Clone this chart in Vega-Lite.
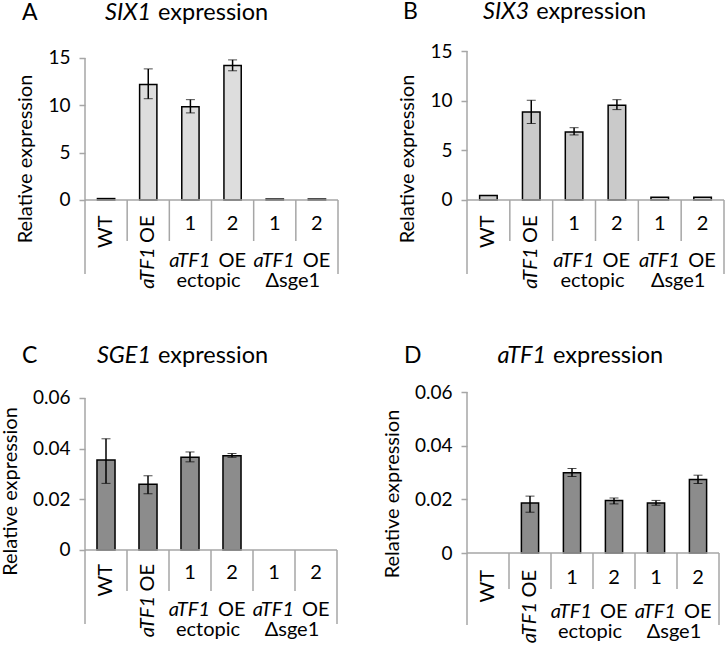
{
  "$schema": "https://vega.github.io/schema/vega-lite/v6.json",
  "padding": 0,
  "columns": 2,
  "bounds": "flush",
  "align": "each",
  "spacing": {"row": 57, "column": 129},
  "concat": [
    {
      "width": 253, "height": 273,
      "data": {"values": [
        {"sample": "WT", "value": 0.15, "row1": "WT"},
        {"sample": "OE", "value": 12.2, "lo": 10.7, "hi": 13.85, "row1": "OE", "row1i": "aTF1"},
        {"sample": "E1", "value": 9.85, "lo": 9.2, "hi": 10.6, "num": "1"},
        {"sample": "E2", "value": 14.2, "lo": 13.65, "hi": 14.8, "num": "2", "grp": "ectopic", "grpi": "aTF1", "grpn": "OE"},
        {"sample": "D1", "value": 0.1, "num": "1"},
        {"sample": "D2", "value": 0.1, "num": "2", "grp": "Δsge1", "grpi": "aTF1", "grpn": "OE"}
      ]},
      "layer": [
        {"transform": [{"filter": "datum.value > 0"}],
         "mark": {"type": "bar", "width": {"band": 0.41}, "fill": "#dddddd", "stroke": "black", "strokeWidth": 1.5},
         "encoding": {
           "x": {"field": "sample", "type": "nominal", "scale": {"domain": ["WT", "OE", "E1", "E2", "D1", "D2"], "paddingInner": 0, "paddingOuter": 0}, "axis": null},
           "y": {"field": "value", "type": "quantitative", "title": "Relative expression", "scale": {"domain": [-7.817, 21.021], "nice": false, "zero": false}, "axis": {"values": [0, 5, 10, 15], "domain": false, "titleY": 157.5}}}},
        {"transform": [{"filter": "isValid(datum.lo)"}],
         "mark": {"type": "errorbar", "ticks": {"size": 9, "color": "black", "strokeWidth": 1.5}, "rule": {"color": "black", "strokeWidth": 1.5}},
         "encoding": {
           "x": {"field": "sample", "type": "nominal", "scale": {"domain": ["WT", "OE", "E1", "E2", "D1", "D2"], "paddingInner": 0, "paddingOuter": 0}, "axis": null},
           "y": {"field": "lo", "type": "quantitative", "title": "Relative expression", "scale": {"domain": [-7.817, 21.021], "nice": false, "zero": false}, "axis": {"values": [0, 5, 10, 15], "domain": false, "titleY": 157.5}},
           "y2": {"field": "hi"}}},
        {"transform": [{"filter": "datum.sample == 'WT'"}], "mark": {"type": "rule"},
         "encoding": {
           "x": {"field": "sample", "type": "nominal", "bandPosition": 0, "scale": {"domain": ["WT", "OE", "E1", "E2", "D1", "D2"], "paddingInner": 0, "paddingOuter": 0}, "axis": null},
           "y": {"datum": 15, "type": "quantitative", "title": "Relative expression", "scale": {"domain": [-7.817, 21.021], "nice": false, "zero": false}, "axis": {"values": [0, 5, 10, 15], "domain": false, "titleY": 157.5}},
           "y2": {"datum": -7.817}}},
        {"transform": [{"filter": "datum.sample == 'D2'"}], "mark": {"type": "rule"},
         "encoding": {
           "x": {"field": "sample", "type": "nominal", "bandPosition": 1, "scale": {"domain": ["WT", "OE", "E1", "E2", "D1", "D2"], "paddingInner": 0, "paddingOuter": 0}, "axis": null},
           "y": {"datum": 0, "type": "quantitative", "title": "Relative expression", "scale": {"domain": [-7.817, 21.021], "nice": false, "zero": false}, "axis": {"values": [0, 5, 10, 15], "domain": false, "titleY": 157.5}},
           "y2": {"datum": -7.817}}},
        {"transform": [{"filter": "datum.sample != 'D2'"}], "mark": {"type": "rule"},
         "encoding": {
           "x": {"field": "sample", "type": "nominal", "bandPosition": 1, "scale": {"domain": ["WT", "OE", "E1", "E2", "D1", "D2"], "paddingInner": 0, "paddingOuter": 0}, "axis": null},
           "y": {"datum": 0, "type": "quantitative", "title": "Relative expression", "scale": {"domain": [-7.817, 21.021], "nice": false, "zero": false}, "axis": {"values": [0, 5, 10, 15], "domain": false, "titleY": 157.5}},
           "y2": {"datum": -4.331}}},
        {"transform": [{"filter": "datum.sample == 'WT'"}], "mark": {"type": "rule"},
         "encoding": {
           "y": {"datum": 0, "type": "quantitative", "title": "Relative expression", "scale": {"domain": [-7.817, 21.021], "nice": false, "zero": false}, "axis": {"values": [0, 5, 10, 15], "domain": false, "titleY": 157.5}}}},
        {"transform": [{"filter": "isValid(datum.num)"}], "mark": {"type": "text", "baseline": "middle"},
         "encoding": {
           "x": {"field": "sample", "type": "nominal", "scale": {"domain": ["WT", "OE", "E1", "E2", "D1", "D2"], "paddingInner": 0, "paddingOuter": 0}, "axis": null},
           "y": {"datum": -2.535, "type": "quantitative", "title": "Relative expression", "scale": {"domain": [-7.817, 21.021], "nice": false, "zero": false}, "axis": {"values": [0, 5, 10, 15], "domain": false, "titleY": 157.5}},
           "text": {"field": "num"}}},
        {"transform": [{"filter": "isValid(datum.row1)"}], "mark": {"type": "text", "angle": 270, "align": "right", "baseline": "middle"},
         "encoding": {
           "x": {"field": "sample", "type": "nominal", "scale": {"domain": ["WT", "OE", "E1", "E2", "D1", "D2"], "paddingInner": 0, "paddingOuter": 0}, "axis": null},
           "y": {"datum": -1.637, "type": "quantitative", "title": "Relative expression", "scale": {"domain": [-7.817, 21.021], "nice": false, "zero": false}, "axis": {"values": [0, 5, 10, 15], "domain": false, "titleY": 157.5}},
           "text": {"field": "row1"}}},
        {"transform": [{"filter": "isValid(datum.row1i)"}], "mark": {"type": "text", "angle": 270, "align": "right", "baseline": "middle", "fontStyle": "italic", "dx": -32},
         "encoding": {
           "x": {"field": "sample", "type": "nominal", "scale": {"domain": ["WT", "OE", "E1", "E2", "D1", "D2"], "paddingInner": 0, "paddingOuter": 0}, "axis": null},
           "y": {"datum": -1.637, "type": "quantitative", "title": "Relative expression", "scale": {"domain": [-7.817, 21.021], "nice": false, "zero": false}, "axis": {"values": [0, 5, 10, 15], "domain": false, "titleY": 157.5}},
           "text": {"field": "row1i"}}},
        {"transform": [{"filter": "isValid(datum.grp)"}], "mark": {"type": "text", "align": "right", "baseline": "alphabetic", "fontStyle": "italic", "dx": -1},
         "encoding": {
           "x": {"field": "sample", "type": "nominal", "bandPosition": 0, "scale": {"domain": ["WT", "OE", "E1", "E2", "D1", "D2"], "paddingInner": 0, "paddingOuter": 0}, "axis": null},
           "y": {"datum": -7.077, "type": "quantitative", "title": "Relative expression", "scale": {"domain": [-7.817, 21.021], "nice": false, "zero": false}, "axis": {"values": [0, 5, 10, 15], "domain": false, "titleY": 157.5}},
           "text": {"field": "grpi"}}},
        {"transform": [{"filter": "isValid(datum.grp)"}], "mark": {"type": "text", "align": "left", "baseline": "alphabetic", "dx": 7},
         "encoding": {
           "x": {"field": "sample", "type": "nominal", "bandPosition": 0, "scale": {"domain": ["WT", "OE", "E1", "E2", "D1", "D2"], "paddingInner": 0, "paddingOuter": 0}, "axis": null},
           "y": {"datum": -7.077, "type": "quantitative", "title": "Relative expression", "scale": {"domain": [-7.817, 21.021], "nice": false, "zero": false}, "axis": {"values": [0, 5, 10, 15], "domain": false, "titleY": 157.5}},
           "text": {"field": "grpn"}}},
        {"transform": [{"filter": "isValid(datum.grp)"}], "mark": {"type": "text", "align": "center", "baseline": "alphabetic", "dx": -3},
         "encoding": {
           "x": {"field": "sample", "type": "nominal", "bandPosition": 0, "scale": {"domain": ["WT", "OE", "E1", "E2", "D1", "D2"], "paddingInner": 0, "paddingOuter": 0}, "axis": null},
           "y": {"datum": -9.19, "type": "quantitative", "title": "Relative expression", "scale": {"domain": [-7.817, 21.021], "nice": false, "zero": false}, "axis": {"values": [0, 5, 10, 15], "domain": false, "titleY": 157.5}},
           "text": {"field": "grp"}}},
        {"data": {"values": [{"letter": "A", "gene": "SIX1", "rest": "expression"}]},
         "layer": [
           {"mark": {"type": "text", "align": "left", "baseline": "alphabetic", "fontSize": 23},
            "encoding": {
              "x": {"datum": "WT", "type": "nominal", "bandPosition": -1.494, "scale": {"domain": ["WT", "OE", "E1", "E2", "D1", "D2"], "paddingInner": 0, "paddingOuter": 0}, "axis": null},
              "y": {"datum": 19.02, "type": "quantitative", "title": "Relative expression", "scale": {"domain": [-7.817, 21.021], "nice": false, "zero": false}, "axis": {"values": [0, 5, 10, 15], "domain": false, "titleY": 157.5}},
              "text": {"field": "letter"}}},
           {"mark": {"type": "text", "align": "right", "baseline": "alphabetic", "fontSize": 23.5, "fontStyle": "italic", "dx": -2},
            "encoding": {
              "x": {"datum": "OE", "type": "nominal", "bandPosition": 0.615, "scale": {"domain": ["WT", "OE", "E1", "E2", "D1", "D2"], "paddingInner": 0, "paddingOuter": 0}, "axis": null},
              "y": {"datum": 19.02, "type": "quantitative", "title": "Relative expression", "scale": {"domain": [-7.817, 21.021], "nice": false, "zero": false}, "axis": {"values": [0, 5, 10, 15], "domain": false, "titleY": 157.5}},
              "text": {"field": "gene"}}},
           {"mark": {"type": "text", "align": "left", "baseline": "alphabetic", "fontSize": 23.5, "dx": 5},
            "encoding": {
              "x": {"datum": "OE", "type": "nominal", "bandPosition": 0.615, "scale": {"domain": ["WT", "OE", "E1", "E2", "D1", "D2"], "paddingInner": 0, "paddingOuter": 0}, "axis": null},
              "y": {"datum": 19.02, "type": "quantitative", "title": "Relative expression", "scale": {"domain": [-7.817, 21.021], "nice": false, "zero": false}, "axis": {"values": [0, 5, 10, 15], "domain": false, "titleY": 157.5}},
              "text": {"field": "rest"}}}
         ]}
      ]
    },
    {
      "width": 257, "height": 273,
      "data": {"values": [
        {"sample": "WT", "value": 0.45, "row1": "WT"},
        {"sample": "OE", "value": 8.86, "lo": 7.7, "hi": 10.04, "row1": "OE", "row1i": "aTF1"},
        {"sample": "E1", "value": 6.85, "lo": 6.55, "hi": 7.28, "num": "1"},
        {"sample": "E2", "value": 9.53, "lo": 9.1, "hi": 10.1, "num": "2", "grp": "ectopic", "grpi": "aTF1", "grpn": "OE"},
        {"sample": "D1", "value": 0.27, "num": "1"},
        {"sample": "D2", "value": 0.27, "num": "2", "grp": "Δsge1", "grpi": "aTF1", "grpn": "OE"}
      ]},
      "layer": [
        {"transform": [{"filter": "datum.value > 0"}],
         "mark": {"type": "bar", "width": {"band": 0.41}, "fill": "#cacaca", "stroke": "black", "strokeWidth": 1.5},
         "encoding": {
           "x": {"field": "sample", "type": "nominal", "scale": {"domain": ["WT", "OE", "E1", "E2", "D1", "D2"], "paddingInner": 0, "paddingOuter": 0}, "axis": null},
           "y": {"field": "value", "type": "quantitative", "title": "Relative expression", "scale": {"domain": [-7.45, 20.034], "nice": false, "zero": false}, "axis": {"values": [0, 5, 10, 15], "domain": false, "titleY": 157.5}}}},
        {"transform": [{"filter": "isValid(datum.lo)"}],
         "mark": {"type": "errorbar", "ticks": {"size": 9, "color": "black", "strokeWidth": 1.5}, "rule": {"color": "black", "strokeWidth": 1.5}},
         "encoding": {
           "x": {"field": "sample", "type": "nominal", "scale": {"domain": ["WT", "OE", "E1", "E2", "D1", "D2"], "paddingInner": 0, "paddingOuter": 0}, "axis": null},
           "y": {"field": "lo", "type": "quantitative", "title": "Relative expression", "scale": {"domain": [-7.45, 20.034], "nice": false, "zero": false}, "axis": {"values": [0, 5, 10, 15], "domain": false, "titleY": 157.5}},
           "y2": {"field": "hi"}}},
        {"transform": [{"filter": "datum.sample == 'WT'"}], "mark": {"type": "rule"},
         "encoding": {
           "x": {"field": "sample", "type": "nominal", "bandPosition": 0, "scale": {"domain": ["WT", "OE", "E1", "E2", "D1", "D2"], "paddingInner": 0, "paddingOuter": 0}, "axis": null},
           "y": {"datum": 15, "type": "quantitative", "title": "Relative expression", "scale": {"domain": [-7.45, 20.034], "nice": false, "zero": false}, "axis": {"values": [0, 5, 10, 15], "domain": false, "titleY": 157.5}},
           "y2": {"datum": -7.45}}},
        {"transform": [{"filter": "datum.sample == 'D2'"}], "mark": {"type": "rule"},
         "encoding": {
           "x": {"field": "sample", "type": "nominal", "bandPosition": 1, "scale": {"domain": ["WT", "OE", "E1", "E2", "D1", "D2"], "paddingInner": 0, "paddingOuter": 0}, "axis": null},
           "y": {"datum": 0, "type": "quantitative", "title": "Relative expression", "scale": {"domain": [-7.45, 20.034], "nice": false, "zero": false}, "axis": {"values": [0, 5, 10, 15], "domain": false, "titleY": 157.5}},
           "y2": {"datum": -7.45}}},
        {"transform": [{"filter": "datum.sample != 'D2'"}], "mark": {"type": "rule"},
         "encoding": {
           "x": {"field": "sample", "type": "nominal", "bandPosition": 1, "scale": {"domain": ["WT", "OE", "E1", "E2", "D1", "D2"], "paddingInner": 0, "paddingOuter": 0}, "axis": null},
           "y": {"datum": 0, "type": "quantitative", "title": "Relative expression", "scale": {"domain": [-7.45, 20.034], "nice": false, "zero": false}, "axis": {"values": [0, 5, 10, 15], "domain": false, "titleY": 157.5}},
           "y2": {"datum": -4.128}}},
        {"transform": [{"filter": "datum.sample == 'WT'"}], "mark": {"type": "rule"},
         "encoding": {
           "y": {"datum": 0, "type": "quantitative", "title": "Relative expression", "scale": {"domain": [-7.45, 20.034], "nice": false, "zero": false}, "axis": {"values": [0, 5, 10, 15], "domain": false, "titleY": 157.5}}}},
        {"transform": [{"filter": "isValid(datum.num)"}], "mark": {"type": "text", "baseline": "middle"},
         "encoding": {
           "x": {"field": "sample", "type": "nominal", "scale": {"domain": ["WT", "OE", "E1", "E2", "D1", "D2"], "paddingInner": 0, "paddingOuter": 0}, "axis": null},
           "y": {"datum": -2.416, "type": "quantitative", "title": "Relative expression", "scale": {"domain": [-7.45, 20.034], "nice": false, "zero": false}, "axis": {"values": [0, 5, 10, 15], "domain": false, "titleY": 157.5}},
           "text": {"field": "num"}}},
        {"transform": [{"filter": "isValid(datum.row1)"}], "mark": {"type": "text", "angle": 270, "align": "right", "baseline": "middle"},
         "encoding": {
           "x": {"field": "sample", "type": "nominal", "scale": {"domain": ["WT", "OE", "E1", "E2", "D1", "D2"], "paddingInner": 0, "paddingOuter": 0}, "axis": null},
           "y": {"datum": -1.56, "type": "quantitative", "title": "Relative expression", "scale": {"domain": [-7.45, 20.034], "nice": false, "zero": false}, "axis": {"values": [0, 5, 10, 15], "domain": false, "titleY": 157.5}},
           "text": {"field": "row1"}}},
        {"transform": [{"filter": "isValid(datum.row1i)"}], "mark": {"type": "text", "angle": 270, "align": "right", "baseline": "middle", "fontStyle": "italic", "dx": -32},
         "encoding": {
           "x": {"field": "sample", "type": "nominal", "scale": {"domain": ["WT", "OE", "E1", "E2", "D1", "D2"], "paddingInner": 0, "paddingOuter": 0}, "axis": null},
           "y": {"datum": -1.56, "type": "quantitative", "title": "Relative expression", "scale": {"domain": [-7.45, 20.034], "nice": false, "zero": false}, "axis": {"values": [0, 5, 10, 15], "domain": false, "titleY": 157.5}},
           "text": {"field": "row1i"}}},
        {"transform": [{"filter": "isValid(datum.grp)"}], "mark": {"type": "text", "align": "right", "baseline": "alphabetic", "fontStyle": "italic", "dx": -1},
         "encoding": {
           "x": {"field": "sample", "type": "nominal", "bandPosition": 0, "scale": {"domain": ["WT", "OE", "E1", "E2", "D1", "D2"], "paddingInner": 0, "paddingOuter": 0}, "axis": null},
           "y": {"datum": -6.745, "type": "quantitative", "title": "Relative expression", "scale": {"domain": [-7.45, 20.034], "nice": false, "zero": false}, "axis": {"values": [0, 5, 10, 15], "domain": false, "titleY": 157.5}},
           "text": {"field": "grpi"}}},
        {"transform": [{"filter": "isValid(datum.grp)"}], "mark": {"type": "text", "align": "left", "baseline": "alphabetic", "dx": 7},
         "encoding": {
           "x": {"field": "sample", "type": "nominal", "bandPosition": 0, "scale": {"domain": ["WT", "OE", "E1", "E2", "D1", "D2"], "paddingInner": 0, "paddingOuter": 0}, "axis": null},
           "y": {"datum": -6.745, "type": "quantitative", "title": "Relative expression", "scale": {"domain": [-7.45, 20.034], "nice": false, "zero": false}, "axis": {"values": [0, 5, 10, 15], "domain": false, "titleY": 157.5}},
           "text": {"field": "grpn"}}},
        {"transform": [{"filter": "isValid(datum.grp)"}], "mark": {"type": "text", "align": "center", "baseline": "alphabetic", "dx": -3},
         "encoding": {
           "x": {"field": "sample", "type": "nominal", "bandPosition": 0, "scale": {"domain": ["WT", "OE", "E1", "E2", "D1", "D2"], "paddingInner": 0, "paddingOuter": 0}, "axis": null},
           "y": {"datum": -8.758, "type": "quantitative", "title": "Relative expression", "scale": {"domain": [-7.45, 20.034], "nice": false, "zero": false}, "axis": {"values": [0, 5, 10, 15], "domain": false, "titleY": 157.5}},
           "text": {"field": "grp"}}},
        {"data": {"values": [{"letter": "B", "gene": "SIX3", "rest": "expression"}]},
         "layer": [
           {"mark": {"type": "text", "align": "left", "baseline": "alphabetic", "fontSize": 23},
            "encoding": {
              "x": {"datum": "WT", "type": "nominal", "bandPosition": -1.494, "scale": {"domain": ["WT", "OE", "E1", "E2", "D1", "D2"], "paddingInner": 0, "paddingOuter": 0}, "axis": null},
              "y": {"datum": 18.22, "type": "quantitative", "title": "Relative expression", "scale": {"domain": [-7.45, 20.034], "nice": false, "zero": false}, "axis": {"values": [0, 5, 10, 15], "domain": false, "titleY": 157.5}},
              "text": {"field": "letter"}}},
           {"mark": {"type": "text", "align": "right", "baseline": "alphabetic", "fontSize": 23.5, "fontStyle": "italic", "dx": -2},
            "encoding": {
              "x": {"datum": "OE", "type": "nominal", "bandPosition": 0.498, "scale": {"domain": ["WT", "OE", "E1", "E2", "D1", "D2"], "paddingInner": 0, "paddingOuter": 0}, "axis": null},
              "y": {"datum": 18.22, "type": "quantitative", "title": "Relative expression", "scale": {"domain": [-7.45, 20.034], "nice": false, "zero": false}, "axis": {"values": [0, 5, 10, 15], "domain": false, "titleY": 157.5}},
              "text": {"field": "gene"}}},
           {"mark": {"type": "text", "align": "left", "baseline": "alphabetic", "fontSize": 23.5, "dx": 5},
            "encoding": {
              "x": {"datum": "OE", "type": "nominal", "bandPosition": 0.498, "scale": {"domain": ["WT", "OE", "E1", "E2", "D1", "D2"], "paddingInner": 0, "paddingOuter": 0}, "axis": null},
              "y": {"datum": 18.22, "type": "quantitative", "title": "Relative expression", "scale": {"domain": [-7.45, 20.034], "nice": false, "zero": false}, "axis": {"values": [0, 5, 10, 15], "domain": false, "titleY": 157.5}},
              "text": {"field": "rest"}}}
         ]}
      ]
    },
    {
      "width": 252, "height": 293,
      "data": {"values": [
        {"sample": "WT", "value": 0.0355, "lo": 0.0263, "hi": 0.0439, "row1": "WT"},
        {"sample": "OE", "value": 0.026, "lo": 0.0222, "hi": 0.0293, "row1": "OE", "row1i": "aTF1"},
        {"sample": "E1", "value": 0.0366, "lo": 0.0348, "hi": 0.0387, "num": "1"},
        {"sample": "E2", "value": 0.0372, "lo": 0.0366, "hi": 0.0381, "num": "2", "grp": "ectopic", "grpi": "aTF1", "grpn": "OE"},
        {"sample": "D1", "value": 0, "num": "1"},
        {"sample": "D2", "value": 0, "num": "2", "grp": "Δsge1", "grpi": "aTF1", "grpn": "OE"}
      ]},
      "layer": [
        {"transform": [{"filter": "datum.value > 0"}],
         "mark": {"type": "bar", "width": {"band": 0.43}, "fill": "#8c8c8c", "stroke": "black", "strokeWidth": 1.5},
         "encoding": {
           "x": {"field": "sample", "type": "nominal", "scale": {"domain": ["WT", "OE", "E1", "E2", "D1", "D2"], "paddingInner": 0, "paddingOuter": 0}, "axis": null},
           "y": {"field": "value", "type": "quantitative", "title": "Relative expression", "scale": {"domain": [-0.029211, 0.086447], "nice": false, "zero": false}, "axis": {"values": [0, 0.02, 0.04, 0.06], "format": ".2~f", "domain": false, "titleY": 160}}}},
        {"transform": [{"filter": "isValid(datum.lo)"}],
         "mark": {"type": "errorbar", "ticks": {"size": 9, "color": "black", "strokeWidth": 1.5}, "rule": {"color": "black", "strokeWidth": 1.5}},
         "encoding": {
           "x": {"field": "sample", "type": "nominal", "scale": {"domain": ["WT", "OE", "E1", "E2", "D1", "D2"], "paddingInner": 0, "paddingOuter": 0}, "axis": null},
           "y": {"field": "lo", "type": "quantitative", "title": "Relative expression", "scale": {"domain": [-0.029211, 0.086447], "nice": false, "zero": false}, "axis": {"values": [0, 0.02, 0.04, 0.06], "format": ".2~f", "domain": false, "titleY": 160}},
           "y2": {"field": "hi"}}},
        {"transform": [{"filter": "datum.sample == 'WT'"}], "mark": {"type": "rule"},
         "encoding": {
           "x": {"field": "sample", "type": "nominal", "bandPosition": 0, "scale": {"domain": ["WT", "OE", "E1", "E2", "D1", "D2"], "paddingInner": 0, "paddingOuter": 0}, "axis": null},
           "y": {"datum": 0.06, "type": "quantitative", "title": "Relative expression", "scale": {"domain": [-0.029211, 0.086447], "nice": false, "zero": false}, "axis": {"values": [0, 0.02, 0.04, 0.06], "format": ".2~f", "domain": false, "titleY": 160}},
           "y2": {"datum": -0.029211}}},
        {"transform": [{"filter": "datum.sample == 'D2'"}], "mark": {"type": "rule"},
         "encoding": {
           "x": {"field": "sample", "type": "nominal", "bandPosition": 1, "scale": {"domain": ["WT", "OE", "E1", "E2", "D1", "D2"], "paddingInner": 0, "paddingOuter": 0}, "axis": null},
           "y": {"datum": 0, "type": "quantitative", "title": "Relative expression", "scale": {"domain": [-0.029211, 0.086447], "nice": false, "zero": false}, "axis": {"values": [0, 0.02, 0.04, 0.06], "format": ".2~f", "domain": false, "titleY": 160}},
           "y2": {"datum": -0.029211}}},
        {"transform": [{"filter": "datum.sample != 'D2'"}], "mark": {"type": "rule"},
         "encoding": {
           "x": {"field": "sample", "type": "nominal", "bandPosition": 1, "scale": {"domain": ["WT", "OE", "E1", "E2", "D1", "D2"], "paddingInner": 0, "paddingOuter": 0}, "axis": null},
           "y": {"datum": 0, "type": "quantitative", "title": "Relative expression", "scale": {"domain": [-0.029211, 0.086447], "nice": false, "zero": false}, "axis": {"values": [0, 0.02, 0.04, 0.06], "format": ".2~f", "domain": false, "titleY": 160}},
           "y2": {"datum": -0.016184}}},
        {"transform": [{"filter": "datum.sample == 'WT'"}], "mark": {"type": "rule"},
         "encoding": {
           "y": {"datum": 0, "type": "quantitative", "title": "Relative expression", "scale": {"domain": [-0.029211, 0.086447], "nice": false, "zero": false}, "axis": {"values": [0, 0.02, 0.04, 0.06], "format": ".2~f", "domain": false, "titleY": 160}}}},
        {"transform": [{"filter": "isValid(datum.num)"}], "mark": {"type": "text", "baseline": "middle"},
         "encoding": {
           "x": {"field": "sample", "type": "nominal", "scale": {"domain": ["WT", "OE", "E1", "E2", "D1", "D2"], "paddingInner": 0, "paddingOuter": 0}, "axis": null},
           "y": {"datum": -0.009276, "type": "quantitative", "title": "Relative expression", "scale": {"domain": [-0.029211, 0.086447], "nice": false, "zero": false}, "axis": {"values": [0, 0.02, 0.04, 0.06], "format": ".2~f", "domain": false, "titleY": 160}},
           "text": {"field": "num"}}},
        {"transform": [{"filter": "isValid(datum.row1)"}], "mark": {"type": "text", "angle": 270, "align": "right", "baseline": "middle"},
         "encoding": {
           "x": {"field": "sample", "type": "nominal", "scale": {"domain": ["WT", "OE", "E1", "E2", "D1", "D2"], "paddingInner": 0, "paddingOuter": 0}, "axis": null},
           "y": {"datum": -0.005526, "type": "quantitative", "title": "Relative expression", "scale": {"domain": [-0.029211, 0.086447], "nice": false, "zero": false}, "axis": {"values": [0, 0.02, 0.04, 0.06], "format": ".2~f", "domain": false, "titleY": 160}},
           "text": {"field": "row1"}}},
        {"transform": [{"filter": "isValid(datum.row1i)"}], "mark": {"type": "text", "angle": 270, "align": "right", "baseline": "middle", "fontStyle": "italic", "dx": -32},
         "encoding": {
           "x": {"field": "sample", "type": "nominal", "scale": {"domain": ["WT", "OE", "E1", "E2", "D1", "D2"], "paddingInner": 0, "paddingOuter": 0}, "axis": null},
           "y": {"datum": -0.005526, "type": "quantitative", "title": "Relative expression", "scale": {"domain": [-0.029211, 0.086447], "nice": false, "zero": false}, "axis": {"values": [0, 0.02, 0.04, 0.06], "format": ".2~f", "domain": false, "titleY": 160}},
           "text": {"field": "row1i"}}},
        {"transform": [{"filter": "isValid(datum.grp)"}], "mark": {"type": "text", "align": "right", "baseline": "alphabetic", "fontStyle": "italic", "dx": -1},
         "encoding": {
           "x": {"field": "sample", "type": "nominal", "bandPosition": 0, "scale": {"domain": ["WT", "OE", "E1", "E2", "D1", "D2"], "paddingInner": 0, "paddingOuter": 0}, "axis": null},
           "y": {"datum": -0.026053, "type": "quantitative", "title": "Relative expression", "scale": {"domain": [-0.029211, 0.086447], "nice": false, "zero": false}, "axis": {"values": [0, 0.02, 0.04, 0.06], "format": ".2~f", "domain": false, "titleY": 160}},
           "text": {"field": "grpi"}}},
        {"transform": [{"filter": "isValid(datum.grp)"}], "mark": {"type": "text", "align": "left", "baseline": "alphabetic", "dx": 7},
         "encoding": {
           "x": {"field": "sample", "type": "nominal", "bandPosition": 0, "scale": {"domain": ["WT", "OE", "E1", "E2", "D1", "D2"], "paddingInner": 0, "paddingOuter": 0}, "axis": null},
           "y": {"datum": -0.026053, "type": "quantitative", "title": "Relative expression", "scale": {"domain": [-0.029211, 0.086447], "nice": false, "zero": false}, "axis": {"values": [0, 0.02, 0.04, 0.06], "format": ".2~f", "domain": false, "titleY": 160}},
           "text": {"field": "grpn"}}},
        {"transform": [{"filter": "isValid(datum.grp)"}], "mark": {"type": "text", "align": "center", "baseline": "alphabetic", "dx": -3},
         "encoding": {
           "x": {"field": "sample", "type": "nominal", "bandPosition": 0, "scale": {"domain": ["WT", "OE", "E1", "E2", "D1", "D2"], "paddingInner": 0, "paddingOuter": 0}, "axis": null},
           "y": {"datum": -0.033947, "type": "quantitative", "title": "Relative expression", "scale": {"domain": [-0.029211, 0.086447], "nice": false, "zero": false}, "axis": {"values": [0, 0.02, 0.04, 0.06], "format": ".2~f", "domain": false, "titleY": 160}},
           "text": {"field": "grp"}}},
        {"data": {"values": [{"letter": "C", "gene": "SGE1", "rest": "expression"}]},
         "layer": [
           {"mark": {"type": "text", "align": "left", "baseline": "alphabetic", "fontSize": 23},
            "encoding": {
              "x": {"datum": "WT", "type": "nominal", "bandPosition": -1.5, "scale": {"domain": ["WT", "OE", "E1", "E2", "D1", "D2"], "paddingInner": 0, "paddingOuter": 0}, "axis": null},
              "y": {"datum": 0.073816, "type": "quantitative", "title": "Relative expression", "scale": {"domain": [-0.029211, 0.086447], "nice": false, "zero": false}, "axis": {"values": [0, 0.02, 0.04, 0.06], "format": ".2~f", "domain": false, "titleY": 160}},
              "text": {"field": "letter"}}},
           {"mark": {"type": "text", "align": "right", "baseline": "alphabetic", "fontSize": 23.5, "fontStyle": "italic", "dx": -2},
            "encoding": {
              "x": {"datum": "OE", "type": "nominal", "bandPosition": 0.621, "scale": {"domain": ["WT", "OE", "E1", "E2", "D1", "D2"], "paddingInner": 0, "paddingOuter": 0}, "axis": null},
              "y": {"datum": 0.073816, "type": "quantitative", "title": "Relative expression", "scale": {"domain": [-0.029211, 0.086447], "nice": false, "zero": false}, "axis": {"values": [0, 0.02, 0.04, 0.06], "format": ".2~f", "domain": false, "titleY": 160}},
              "text": {"field": "gene"}}},
           {"mark": {"type": "text", "align": "left", "baseline": "alphabetic", "fontSize": 23.5, "dx": 5},
            "encoding": {
              "x": {"datum": "OE", "type": "nominal", "bandPosition": 0.621, "scale": {"domain": ["WT", "OE", "E1", "E2", "D1", "D2"], "paddingInner": 0, "paddingOuter": 0}, "axis": null},
              "y": {"datum": 0.073816, "type": "quantitative", "title": "Relative expression", "scale": {"domain": [-0.029211, 0.086447], "nice": false, "zero": false}, "axis": {"values": [0, 0.02, 0.04, 0.06], "format": ".2~f", "domain": false, "titleY": 160}},
              "text": {"field": "rest"}}}
         ]}
      ]
    },
    {
      "width": 252, "height": 294,
      "data": {"values": [
        {"sample": "WT", "value": 0, "row1": "WT"},
        {"sample": "OE", "value": 0.0186, "lo": 0.0152, "hi": 0.0212, "row1": "OE", "row1i": "aTF1"},
        {"sample": "E1", "value": 0.0299, "lo": 0.0285, "hi": 0.0315, "num": "1"},
        {"sample": "E2", "value": 0.0196, "lo": 0.0183, "hi": 0.0205, "num": "2", "grp": "ectopic", "grpi": "aTF1", "grpn": "OE"},
        {"sample": "D1", "value": 0.0186, "lo": 0.0178, "hi": 0.0196, "num": "1"},
        {"sample": "D2", "value": 0.0274, "lo": 0.0259, "hi": 0.029, "num": "2", "grp": "Δsge1", "grpi": "aTF1", "grpn": "OE"}
      ]},
      "layer": [
        {"transform": [{"filter": "datum.value > 0"}],
         "mark": {"type": "bar", "width": {"band": 0.41}, "fill": "#8c8c8c", "stroke": "black", "strokeWidth": 1.5},
         "encoding": {
           "x": {"field": "sample", "type": "nominal", "scale": {"domain": ["WT", "OE", "E1", "E2", "D1", "D2"], "paddingInner": 0, "paddingOuter": 0}, "axis": null},
           "y": {"field": "value", "type": "quantitative", "title": "Relative expression", "scale": {"domain": [-0.026832, 0.082733], "nice": false, "zero": false}, "axis": {"values": [0, 0.02, 0.04, 0.06], "format": ".2~f", "domain": false, "titleY": 162.5}}}},
        {"transform": [{"filter": "isValid(datum.lo)"}],
         "mark": {"type": "errorbar", "ticks": {"size": 9, "color": "black", "strokeWidth": 1.5}, "rule": {"color": "black", "strokeWidth": 1.5}},
         "encoding": {
           "x": {"field": "sample", "type": "nominal", "scale": {"domain": ["WT", "OE", "E1", "E2", "D1", "D2"], "paddingInner": 0, "paddingOuter": 0}, "axis": null},
           "y": {"field": "lo", "type": "quantitative", "title": "Relative expression", "scale": {"domain": [-0.026832, 0.082733], "nice": false, "zero": false}, "axis": {"values": [0, 0.02, 0.04, 0.06], "format": ".2~f", "domain": false, "titleY": 162.5}},
           "y2": {"field": "hi"}}},
        {"transform": [{"filter": "datum.sample == 'WT'"}], "mark": {"type": "rule"},
         "encoding": {
           "x": {"field": "sample", "type": "nominal", "bandPosition": 0, "scale": {"domain": ["WT", "OE", "E1", "E2", "D1", "D2"], "paddingInner": 0, "paddingOuter": 0}, "axis": null},
           "y": {"datum": 0.06, "type": "quantitative", "title": "Relative expression", "scale": {"domain": [-0.026832, 0.082733], "nice": false, "zero": false}, "axis": {"values": [0, 0.02, 0.04, 0.06], "format": ".2~f", "domain": false, "titleY": 162.5}},
           "y2": {"datum": -0.026832}}},
        {"transform": [{"filter": "datum.sample == 'D2'"}], "mark": {"type": "rule"},
         "encoding": {
           "x": {"field": "sample", "type": "nominal", "bandPosition": 1, "scale": {"domain": ["WT", "OE", "E1", "E2", "D1", "D2"], "paddingInner": 0, "paddingOuter": 0}, "axis": null},
           "y": {"datum": 0, "type": "quantitative", "title": "Relative expression", "scale": {"domain": [-0.026832, 0.082733], "nice": false, "zero": false}, "axis": {"values": [0, 0.02, 0.04, 0.06], "format": ".2~f", "domain": false, "titleY": 162.5}},
           "y2": {"datum": -0.026832}}},
        {"transform": [{"filter": "datum.sample != 'D2'"}], "mark": {"type": "rule"},
         "encoding": {
           "x": {"field": "sample", "type": "nominal", "bandPosition": 1, "scale": {"domain": ["WT", "OE", "E1", "E2", "D1", "D2"], "paddingInner": 0, "paddingOuter": 0}, "axis": null},
           "y": {"datum": 0, "type": "quantitative", "title": "Relative expression", "scale": {"domain": [-0.026832, 0.082733], "nice": false, "zero": false}, "axis": {"values": [0, 0.02, 0.04, 0.06], "format": ".2~f", "domain": false, "titleY": 162.5}},
           "y2": {"datum": -0.013416}}},
        {"transform": [{"filter": "datum.sample == 'WT'"}], "mark": {"type": "rule"},
         "encoding": {
           "y": {"datum": 0, "type": "quantitative", "title": "Relative expression", "scale": {"domain": [-0.026832, 0.082733], "nice": false, "zero": false}, "axis": {"values": [0, 0.02, 0.04, 0.06], "format": ".2~f", "domain": false, "titleY": 162.5}}}},
        {"transform": [{"filter": "isValid(datum.num)"}], "mark": {"type": "text", "baseline": "middle"},
         "encoding": {
           "x": {"field": "sample", "type": "nominal", "scale": {"domain": ["WT", "OE", "E1", "E2", "D1", "D2"], "paddingInner": 0, "paddingOuter": 0}, "axis": null},
           "y": {"datum": -0.009205, "type": "quantitative", "title": "Relative expression", "scale": {"domain": [-0.026832, 0.082733], "nice": false, "zero": false}, "axis": {"values": [0, 0.02, 0.04, 0.06], "format": ".2~f", "domain": false, "titleY": 162.5}},
           "text": {"field": "num"}}},
        {"transform": [{"filter": "isValid(datum.row1)"}], "mark": {"type": "text", "angle": 270, "align": "right", "baseline": "middle"},
         "encoding": {
           "x": {"field": "sample", "type": "nominal", "scale": {"domain": ["WT", "OE", "E1", "E2", "D1", "D2"], "paddingInner": 0, "paddingOuter": 0}, "axis": null},
           "y": {"datum": -0.006335, "type": "quantitative", "title": "Relative expression", "scale": {"domain": [-0.026832, 0.082733], "nice": false, "zero": false}, "axis": {"values": [0, 0.02, 0.04, 0.06], "format": ".2~f", "domain": false, "titleY": 162.5}},
           "text": {"field": "row1"}}},
        {"transform": [{"filter": "isValid(datum.row1i)"}], "mark": {"type": "text", "angle": 270, "align": "right", "baseline": "middle", "fontStyle": "italic", "dx": -32},
         "encoding": {
           "x": {"field": "sample", "type": "nominal", "scale": {"domain": ["WT", "OE", "E1", "E2", "D1", "D2"], "paddingInner": 0, "paddingOuter": 0}, "axis": null},
           "y": {"datum": -0.006335, "type": "quantitative", "title": "Relative expression", "scale": {"domain": [-0.026832, 0.082733], "nice": false, "zero": false}, "axis": {"values": [0, 0.02, 0.04, 0.06], "format": ".2~f", "domain": false, "titleY": 162.5}},
           "text": {"field": "row1i"}}},
        {"transform": [{"filter": "isValid(datum.grp)"}], "mark": {"type": "text", "align": "right", "baseline": "alphabetic", "fontStyle": "italic", "dx": -1},
         "encoding": {
           "x": {"field": "sample", "type": "nominal", "bandPosition": 0, "scale": {"domain": ["WT", "OE", "E1", "E2", "D1", "D2"], "paddingInner": 0, "paddingOuter": 0}, "axis": null},
           "y": {"datum": -0.024224, "type": "quantitative", "title": "Relative expression", "scale": {"domain": [-0.026832, 0.082733], "nice": false, "zero": false}, "axis": {"values": [0, 0.02, 0.04, 0.06], "format": ".2~f", "domain": false, "titleY": 162.5}},
           "text": {"field": "grpi"}}},
        {"transform": [{"filter": "isValid(datum.grp)"}], "mark": {"type": "text", "align": "left", "baseline": "alphabetic", "dx": 7},
         "encoding": {
           "x": {"field": "sample", "type": "nominal", "bandPosition": 0, "scale": {"domain": ["WT", "OE", "E1", "E2", "D1", "D2"], "paddingInner": 0, "paddingOuter": 0}, "axis": null},
           "y": {"datum": -0.024224, "type": "quantitative", "title": "Relative expression", "scale": {"domain": [-0.026832, 0.082733], "nice": false, "zero": false}, "axis": {"values": [0, 0.02, 0.04, 0.06], "format": ".2~f", "domain": false, "titleY": 162.5}},
           "text": {"field": "grpn"}}},
        {"transform": [{"filter": "isValid(datum.grp)"}], "mark": {"type": "text", "align": "center", "baseline": "alphabetic", "dx": -3},
         "encoding": {
           "x": {"field": "sample", "type": "nominal", "bandPosition": 0, "scale": {"domain": ["WT", "OE", "E1", "E2", "D1", "D2"], "paddingInner": 0, "paddingOuter": 0}, "axis": null},
           "y": {"datum": -0.031677, "type": "quantitative", "title": "Relative expression", "scale": {"domain": [-0.026832, 0.082733], "nice": false, "zero": false}, "axis": {"values": [0, 0.02, 0.04, 0.06], "format": ".2~f", "domain": false, "titleY": 162.5}},
           "text": {"field": "grp"}}},
        {"data": {"values": [{"letter": "D", "gene": "aTF1", "rest": "expression"}]},
         "layer": [
           {"mark": {"type": "text", "align": "left", "baseline": "alphabetic", "fontSize": 23},
            "encoding": {
              "x": {"datum": "WT", "type": "nominal", "bandPosition": -1.5, "scale": {"domain": ["WT", "OE", "E1", "E2", "D1", "D2"], "paddingInner": 0, "paddingOuter": 0}, "axis": null},
              "y": {"datum": 0.070808, "type": "quantitative", "title": "Relative expression", "scale": {"domain": [-0.026832, 0.082733], "nice": false, "zero": false}, "axis": {"values": [0, 0.02, 0.04, 0.06], "format": ".2~f", "domain": false, "titleY": 162.5}},
              "text": {"field": "letter"}}},
           {"mark": {"type": "text", "align": "right", "baseline": "alphabetic", "fontSize": 23.5, "fontStyle": "italic", "dx": -2},
            "encoding": {
              "x": {"datum": "OE", "type": "nominal", "bandPosition": 0.93, "scale": {"domain": ["WT", "OE", "E1", "E2", "D1", "D2"], "paddingInner": 0, "paddingOuter": 0}, "axis": null},
              "y": {"datum": 0.070808, "type": "quantitative", "title": "Relative expression", "scale": {"domain": [-0.026832, 0.082733], "nice": false, "zero": false}, "axis": {"values": [0, 0.02, 0.04, 0.06], "format": ".2~f", "domain": false, "titleY": 162.5}},
              "text": {"field": "gene"}}},
           {"mark": {"type": "text", "align": "left", "baseline": "alphabetic", "fontSize": 23.5, "dx": 5},
            "encoding": {
              "x": {"datum": "OE", "type": "nominal", "bandPosition": 0.93, "scale": {"domain": ["WT", "OE", "E1", "E2", "D1", "D2"], "paddingInner": 0, "paddingOuter": 0}, "axis": null},
              "y": {"datum": 0.070808, "type": "quantitative", "title": "Relative expression", "scale": {"domain": [-0.026832, 0.082733], "nice": false, "zero": false}, "axis": {"values": [0, 0.02, 0.04, 0.06], "format": ".2~f", "domain": false, "titleY": 162.5}},
              "text": {"field": "rest"}}}
         ]}
      ]
    }
  ],
  "config": {
    "view": {"stroke": null},
    "font": "Lato",
    "axis": {
      "domainColor": "#a6a6a6", "domainWidth": 1.5,
      "tickColor": "#a6a6a6", "tickWidth": 1.5, "tickSize": 6,
      "labelFont": "Lato", "labelFontSize": 19, "labelColor": "black", "labelPadding": 9, "labelFlush": false,
      "titleFont": "Lato", "titleFontSize": 20, "titleFontWeight": "normal", "titleColor": "black", "titlePadding": 12,
      "grid": false
    },
    "text": {"font": "Lato", "fontSize": 20, "color": "black"},
    "rule": {"color": "#a6a6a6", "strokeWidth": 1.5}
  }
}
